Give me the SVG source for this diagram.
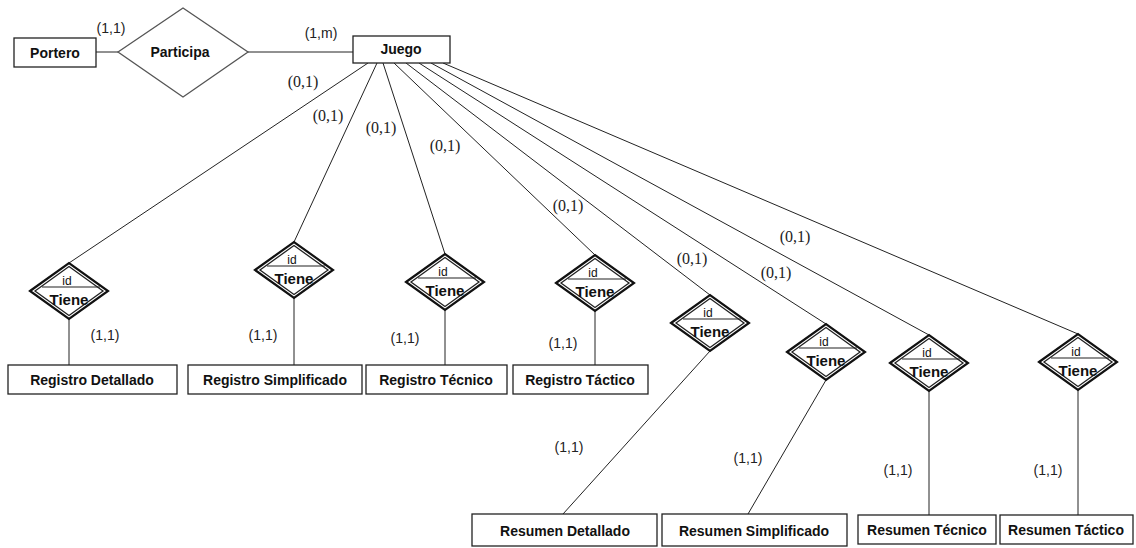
<svg xmlns="http://www.w3.org/2000/svg" xmlns:xlink="http://www.w3.org/1999/xlink" width="1136" height="548" viewBox="0 0 1136 548">
<style>
.ent{fill:#fff;stroke:#222;stroke-width:1.3}
.rel{fill:#fff;stroke:#555;stroke-width:1.3}
.t{font-family:"Liberation Sans",Arial,sans-serif;font-weight:bold;font-size:14px;fill:#111;text-anchor:middle}
.tn{font-family:"Liberation Sans",Arial,sans-serif;font-weight:bold;font-size:15px;fill:#111;text-anchor:middle}
.c11{font-family:"Liberation Sans",Arial,sans-serif;font-size:14px;fill:#222;text-anchor:middle}
.c01{font-family:"Liberation Serif","Times New Roman",serif;font-size:16px;fill:#222;text-anchor:middle}
.id{font-family:"Liberation Sans",Arial,sans-serif;font-size:12px;fill:#111;text-anchor:middle}
.conn line{stroke:#222;stroke-width:1}
</style>
<defs>
<g id="wk">
<polygon points="-39,0 0,-28 39,0 0,28" fill="#fff" stroke="#111" stroke-width="2.2"/>
<polygon points="-34,0 0,-24.5 34,0 0,24.5" fill="none" stroke="#222" stroke-width="1.3"/>
<line x1="-27" y1="-4" x2="31" y2="-4" stroke="#222" stroke-width="1.2"/>
</g>
</defs>
<rect width="1136" height="548" fill="#fff"/>
<g class="conn" id="connectors">
<line x1="96" y1="52" x2="118" y2="52"/>
<line x1="248" y1="52" x2="353" y2="52"/>
<line x1="368" y1="63" x2="69" y2="263"/>
<line x1="377" y1="63" x2="294" y2="242"/>
<line x1="383" y1="63" x2="445" y2="254"/>
<line x1="394" y1="63" x2="595" y2="255"/>
<line x1="406" y1="63" x2="710" y2="295"/>
<line x1="419" y1="63" x2="826" y2="324"/>
<line x1="431" y1="63" x2="929" y2="335"/>
<line x1="443" y1="63" x2="1078" y2="334"/>
<line x1="69" y1="319" x2="69" y2="365"/>
<line x1="294" y1="298" x2="294" y2="365"/>
<line x1="445" y1="310" x2="445" y2="365"/>
<line x1="595" y1="311" x2="595" y2="365"/>
<line x1="710" y1="351" x2="563" y2="514"/>
<line x1="826" y1="380" x2="748" y2="514"/>
<line x1="929" y1="391" x2="929" y2="515"/>
<line x1="1078" y1="390" x2="1078" y2="515"/>
</g>
<g id="labels">
<text class="c11" x="111" y="33">(1,1)</text>
<text class="c11" x="321" y="38">(1,m)</text>
<text class="c01" x="303" y="87">(0,1)</text>
<text class="c01" x="328" y="121">(0,1)</text>
<text class="c01" x="381" y="133">(0,1)</text>
<text class="c01" x="445" y="151">(0,1)</text>
<text class="c01" x="568" y="211">(0,1)</text>
<text class="c01" x="692" y="264">(0,1)</text>
<text class="c01" x="776" y="278">(0,1)</text>
<text class="c01" x="795" y="242">(0,1)</text>
<text class="c11" x="105" y="340">(1,1)</text>
<text class="c11" x="263" y="340">(1,1)</text>
<text class="c11" x="405" y="343">(1,1)</text>
<text class="c11" x="563" y="348">(1,1)</text>
<text class="c11" x="569" y="452">(1,1)</text>
<text class="c11" x="748" y="463">(1,1)</text>
<text class="c11" x="898" y="475">(1,1)</text>
<text class="c11" x="1048" y="475">(1,1)</text>
</g>
<g id="portero"><rect class="ent" x="14" y="38" width="82" height="29"/><text class="t" x="55" y="58">Portero</text></g>
<g id="participa"><polygon class="rel" points="118,52 183,8 248,52 183,97"/><text class="t" x="180" y="57">Participa</text></g>
<g id="juego"><rect class="ent" x="353" y="36" width="97" height="27"/><text class="t" x="401" y="54">Juego</text></g>
<g id="tiene1"><use xlink:href="#wk" x="69" y="291"/><text class="id" x="67" y="285">id</text><text class="tn" x="69" y="305">Tiene</text></g>
<g id="tiene2"><use xlink:href="#wk" x="294" y="270"/><text class="id" x="292" y="264">id</text><text class="tn" x="294" y="284">Tiene</text></g>
<g id="tiene3"><use xlink:href="#wk" x="445" y="282"/><text class="id" x="443" y="276">id</text><text class="tn" x="445" y="296">Tiene</text></g>
<g id="tiene4"><use xlink:href="#wk" x="595" y="283"/><text class="id" x="593" y="277">id</text><text class="tn" x="595" y="297">Tiene</text></g>
<g id="tiene5"><use xlink:href="#wk" x="710" y="323"/><text class="id" x="708" y="317">id</text><text class="tn" x="710" y="337">Tiene</text></g>
<g id="tiene6"><use xlink:href="#wk" x="826" y="352"/><text class="id" x="824" y="346">id</text><text class="tn" x="826" y="366">Tiene</text></g>
<g id="tiene7"><use xlink:href="#wk" x="929" y="363"/><text class="id" x="927" y="357">id</text><text class="tn" x="929" y="377">Tiene</text></g>
<g id="tiene8"><use xlink:href="#wk" x="1078" y="362"/><text class="id" x="1076" y="356">id</text><text class="tn" x="1078" y="376">Tiene</text></g>
<g id="registro-detallado"><rect class="ent" x="8" y="365" width="169" height="29"/><text class="t" x="92" y="385">Registro Detallado</text></g>
<g id="registro-simplificado"><rect class="ent" x="188" y="365" width="174" height="29"/><text class="t" x="275" y="385">Registro Simplificado</text></g>
<g id="registro-tecnico"><rect class="ent" x="366" y="365" width="141" height="29"/><text class="t" x="436" y="385">Registro Técnico</text></g>
<g id="registro-tactico"><rect class="ent" x="513" y="365" width="135" height="29"/><text class="t" x="580" y="385">Registro Táctico</text></g>
<g id="resumen-detallado"><rect class="ent" x="472" y="514" width="185" height="32"/><text class="t" x="565" y="536">Resumen Detallado</text></g>
<g id="resumen-simplificado"><rect class="ent" x="662" y="514" width="185" height="32"/><text class="t" x="754" y="536">Resumen Simplificado</text></g>
<g id="resumen-tecnico"><rect class="ent" x="858" y="515" width="138" height="29"/><text class="t" x="927" y="535">Resumen Técnico</text></g>
<g id="resumen-tactico"><rect class="ent" x="1000" y="515" width="133" height="29"/><text class="t" x="1066" y="535">Resumen Táctico</text></g>
</svg>
